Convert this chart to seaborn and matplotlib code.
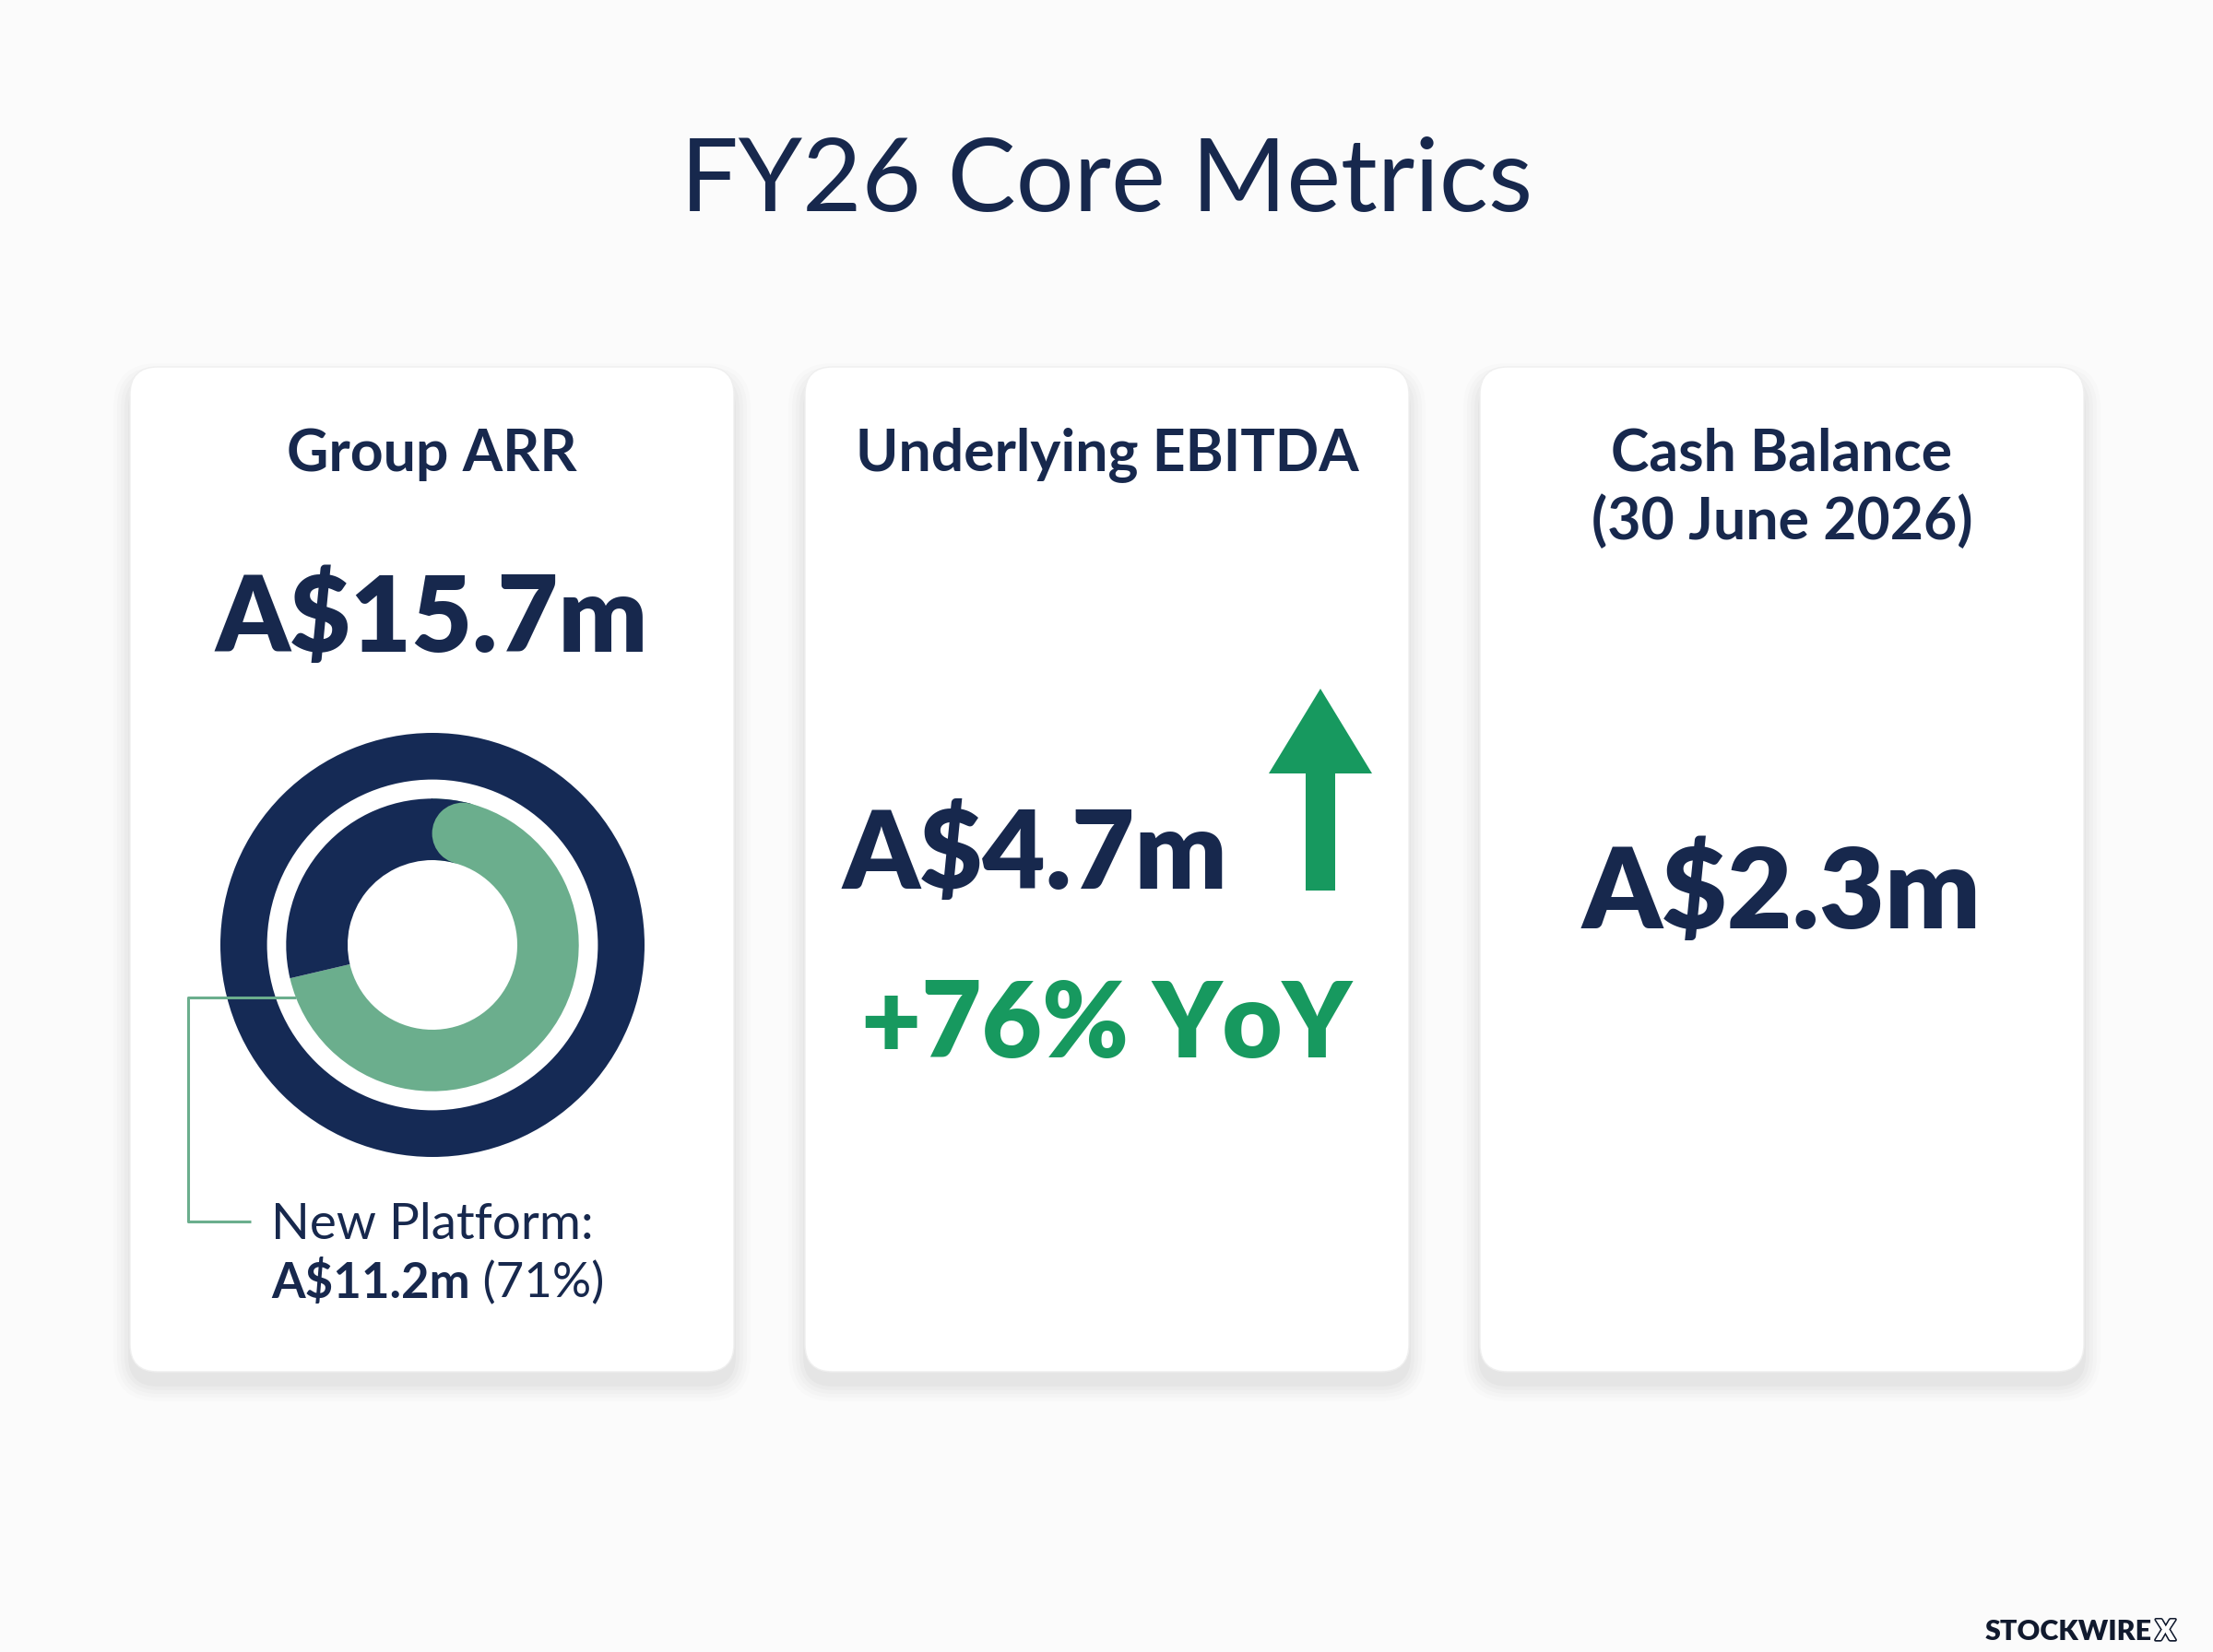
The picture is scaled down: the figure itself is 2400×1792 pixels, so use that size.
import numpy as np
import seaborn as sns
import matplotlib.pyplot as plt
from matplotlib.patches import FancyBboxPatch, FancyArrow, Circle, Wedge
import matplotlib.patheffects as pe

# data
card_titles = ["Group ARR", "Underlying EBITDA", "Cash Balance\n(30 June 2026)"]
group_arr = 15.7
new_platform = 11.2
ebitda = 4.7
ebitda_yoy = 76
cash = 2.3
ring_labels = ["New Platform", "Other"]
ring_values = [new_platform, group_arr - new_platform]

navy = "#17284d"
ring_navy = "#152a55"
light_green = "#6bae8d"
green = "#17995f"

sns.set_theme(style="white")
plt.rcParams["font.family"] = ["Lato", "DejaVu Sans"]

fig = plt.figure(figsize=(24, 17.92), dpi=100, facecolor="#fbfbfb")
W, H = 2400, 1792

# background layer with cards
ax_bg = fig.add_axes([0, 0, 1, 1])
ax_bg.set_xlim(0, W)
ax_bg.set_ylim(H, 0)
ax_bg.axis("off")
ax_bg.set_facecolor("#fbfbfb")

card_x = [141, 873, 1605]
card_y, card_w, card_h = 398, 655, 1090
for cx in card_x:
    for i, a in enumerate([0.012, 0.014, 0.016, 0.02, 0.025]):
        grow = 36 - i * 8
        ax_bg.add_patch(FancyBboxPatch((cx - grow / 2, card_y + 14 - grow / 2),
                                       card_w + grow, card_h + grow,
                                       boxstyle="round,pad=0,rounding_size=%d" % (30 + grow / 2),
                                       fc="#000000", ec="none", alpha=a))
    ax_bg.add_patch(FancyBboxPatch((cx, card_y), card_w, card_h,
                                   boxstyle="round,pad=0,rounding_size=30",
                                   fc="white", ec="#efefef", lw=1))

# donut
dcx, dcy, r = 469, 1025, 230
ax_d = fig.add_axes([(dcx - r) / W, 1 - (dcy + r) / H, 2 * r / W, 2 * r / H])
ax_d.pie([group_arr], radius=1, colors=[ring_navy],
         wedgeprops=dict(width=0.22, linewidth=0))
r_in_out, r_in_in = 0.69, 0.40
ax_d.pie(ring_values, radius=r_in_out, colors=[light_green, ring_navy],
         startangle=90, counterclock=False,
         wedgeprops=dict(width=r_in_out - r_in_in, linewidth=0))
# rounded start of the green arc
r_mid = (r_in_out + r_in_in) / 2
cap_r = (r_in_out - r_in_in) / 2
cap_deg = np.degrees(cap_r / r_mid)
ax_d.add_patch(Wedge((0, 0), r_in_out, 90 - cap_deg, 90.5,
                     width=r_in_out - r_in_in, fc=ring_navy, ec="none"))
ca = np.radians(90 - cap_deg)
ax_d.add_patch(Circle((r_mid * np.cos(ca), r_mid * np.sin(ca)), cap_r,
                      fc=light_green, ec="none"))
ax_d.set_xlim(-1, 1)
ax_d.set_ylim(-1, 1)
ax_d.axis("off")

# top layer: text, leader line, arrow
ax = fig.add_axes([0, 0, 1, 1])
ax.set_xlim(0, W)
ax.set_ylim(H, 0)
ax.axis("off")
ax.patch.set_alpha(0)

ax.text(W / 2, 198, "FY26 Core Metrics", ha="center", va="center",
        fontsize=80, color=navy, fontweight="normal")

for cx, title in zip(card_x, card_titles):
    ty = 530 if "\n" in title else 493
    ax.text(cx + card_w / 2, ty, title, ha="center", va="center",
            fontsize=45, color=navy, fontweight="bold", linespacing=1.3)

# card 1
ax.text(card_x[0] + card_w / 2, 673, f"A${group_arr}m", ha="center", va="center",
        fontsize=82, color=navy, fontweight="heavy")
ly = 1082
lx_end = dcx - np.sqrt((r_in_out * r) ** 2 - (ly - dcy) ** 2)
ax.plot([lx_end, 204, 204, 272], [ly, ly, 1325, 1325], color=light_green, lw=2.2,
        solid_capstyle="butt")
ax.text(294, 1328, f"{ring_labels[0]}:", ha="left", va="center",
        fontsize=39.5, color=navy)
t = ax.text(294, 1392, f"A${new_platform}m", ha="left", va="center",
            fontsize=38, color=navy, fontweight="bold")
ax.annotate(f" ({new_platform / group_arr * 100:.0f}%)", xycoords=t, xy=(1, 0.5),
            ha="left", va="center", fontsize=38, color=navy)

# card 2
ax.text(1122, 928, f"A${ebitda}m", ha="center", va="center",
        fontsize=85, color=navy, fontweight="heavy")
ax.add_patch(FancyArrow(1432, 966, 0, -219, width=32, head_width=112, head_length=92,
                        length_includes_head=True, fc=green, ec="none"))
ax.text(card_x[1] + card_w / 2, 1114, f"+{ebitda_yoy}% YoY", ha="center", va="center",
        fontsize=81, color=green, fontweight="heavy")

# card 3
ax.text(card_x[2] + card_w / 2, 970, f"A${cash}m", ha="center", va="center",
        fontsize=88, color=navy, fontweight="heavy")

# logo
ax.text(2334, 1770, "STOCKWIRE", ha="right", va="center", fontsize=22,
        color="#111a2e", fontweight="heavy")
ax.text(2338, 1770, "X", ha="left", va="center", fontsize=22, color="white",
        fontweight="heavy",
        path_effects=[pe.withStroke(linewidth=2.5, foreground="#111a2e"), pe.Normal()])

fig.savefig("out.png", dpi=100, facecolor=fig.get_facecolor())
